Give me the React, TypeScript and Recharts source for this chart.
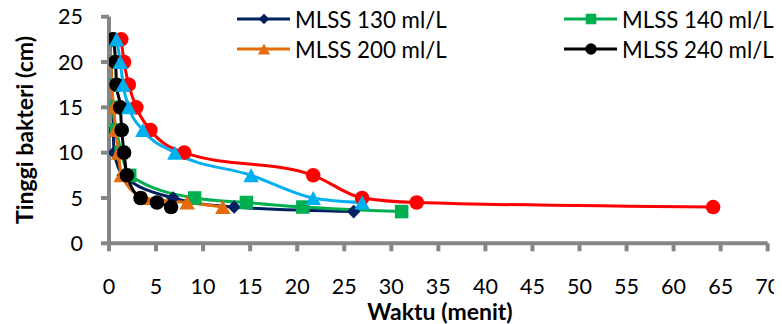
import React from "react";
import { LineChart, Line, XAxis, YAxis, Legend, Label } from "recharts";

// ---- data ----
const xTicks = [0, 5, 10, 15, 20, 25, 30, 35, 40, 45, 50, 55, 60, 65, 70];
const yTicks = [0, 5, 10, 15, 20, 25];

const mlss130Time = [0.1, 0.2, 0.3, 0.4, 0.45, 0.55, 1.5, 6.8, 13.3, 26];
const mlss130Height = [22.5, 20, 17.5, 15, 12.5, 10, 7.5, 5, 4, 3.5];

const mlss140Time = [0, 0.1, 0.3, 0.4, 0.8, 1.3, 2.2, 9.1, 14.6, 20.6, 31.1];
const mlss140Height = [22.5, 20, 17.5, 15, 12.5, 10, 7.5, 5, 4.5, 4, 3.5];

const mlss200Time = [0.1, 0.2, 0.3, 0.5, 0.7, 1.0, 1.3, 3.8, 8.3, 12.1];
const mlss200Height = [22.5, 20, 17.5, 15, 12.5, 10, 7.5, 5, 4.5, 4];

const mlss240Time = [0.45, 0.7, 0.8, 1.2, 1.35, 1.6, 1.9, 3.35, 5.1, 6.6];
const mlss240Height = [22.5, 20, 17.5, 15, 12.5, 10, 7.5, 5, 4.5, 4];

const redTime = [1.3, 1.6, 2.1, 2.9, 4.4, 8, 21.7, 26.9, 32.7, 64.2];
const redHeight = [22.5, 20, 17.5, 15, 12.5, 10, 7.5, 5, 4.5, 4];

const blueTime = [0.8, 1.2, 1.5, 2.1, 3.6, 7, 15.1, 21.7, 26.9];
const blueHeight = [22.5, 20, 17.5, 15, 12.5, 10, 7.5, 5, 4.5];

const zip = (xs: number[], ys: number[]) => xs.map((x, i) => ({ x, y: ys[i] }));

type Shape = "diamond" | "square" | "triangle" | "circle";

const series = [
  { name: "MLSS 130 ml/L", color: "#002060", shape: "diamond" as Shape, data: zip(mlss130Time, mlss130Height), legend: true },
  { name: "MLSS 140 ml/L", color: "#00B050", shape: "square" as Shape, data: zip(mlss140Time, mlss140Height), legend: true },
  { name: "MLSS 200 ml/L", color: "#E46C0A", shape: "triangle" as Shape, data: zip(mlss200Time, mlss200Height), legend: true },
  { name: "MLSS 240 ml/L", color: "#000000", shape: "circle" as Shape, data: zip(mlss240Time, mlss240Height), legend: true },
  { name: "Seri 5", color: "#FF0000", shape: "circle" as Shape, data: zip(redTime, redHeight), legend: false },
  { name: "Seri 6", color: "#00B0F0", shape: "triangle" as Shape, data: zip(blueTime, blueHeight), legend: false },
];

const FONT = "Lato, 'Open Sans', sans-serif";
const AXIS_GREY = "#868686";

function markerEl(shape: Shape, cx: number, cy: number, color: string, big: boolean, key?: string) {
  const s = big ? 1 : 0.78;
  if (shape === "circle") {
    return <circle key={key} cx={cx} cy={cy} r={7.3 * s} fill={color} />;
  }
  if (shape === "square") {
    const w = 13.5 * s;
    return <rect key={key} x={cx - w / 2} y={cy - w / 2} width={w} height={w} fill={color} />;
  }
  if (shape === "triangle") {
    const w = 15.5 * s;
    const h = 14 * s;
    return (
      <polygon
        key={key}
        points={`${cx},${cy - h / 2} ${cx + w / 2},${cy + h / 2} ${cx - w / 2},${cy + h / 2}`}
        fill={color}
      />
    );
  }
  const d = 6.8 * s;
  return (
    <polygon
      key={key}
      points={`${cx},${cy - d} ${cx + d},${cy} ${cx},${cy + d} ${cx - d},${cy}`}
      fill={color}
    />
  );
}

function LegendContent() {
  const items = series.filter((s) => s.legend);
  const colX = [229, 556];
  const rowY = [11, 41];
  return (
    <svg width={774} height={60} style={{ display: "block", overflow: "visible" }}>
      {items.map((it, i) => {
        const col = i % 2;
        const row = Math.floor(i / 2);
        const x0 = colX[col];
        const y = rowY[row];
        return (
          <g key={it.name}>
            <line x1={x0} x2={x0 + 53} y1={y} y2={y} stroke={it.color} strokeWidth={3} />
            {markerEl(it.shape, x0 + 27, y, it.color, false)}
            <text
              x={x0 + 58}
              y={y}
              dominantBaseline="central"
              fontFamily={FONT}
              fontSize={22.3}
              fill="#000"
            >
              {it.name}
            </text>
          </g>
        );
      })}
    </svg>
  );
}

export default function App() {
  return (
    <div style={{ width: 774, height: 316, position: "relative" }}>
      <LineChart
        width={774}
        height={316}
        style={{ overflow: "visible" }}
        margin={{ top: 8.7, right: 14.3, bottom: 20.7, left: 41 }}
      >
        <XAxis
          type="number"
          dataKey="x"
          domain={[0, 70]}
          ticks={xTicks}
          interval={0}
          allowDataOverflow
          height={60}
          axisLine={{ stroke: AXIS_GREY, strokeWidth: 4 }}
          tickLine={{ stroke: AXIS_GREY, strokeWidth: 4 }}
          tickSize={8}
          tickMargin={27.5}
          tick={{ fill: "#000", fontSize: 21.5, fontFamily: FONT }}
        >
          <Label
            content={() => (
              <text
                x={432}
                y={312}
                textAnchor="middle"
                fontFamily={FONT}
                fontWeight="bold"
                fontSize={23}
                fill="#000"
              >
                Waktu (menit)
              </text>
            )}
          />
        </XAxis>
        <YAxis
          type="number"
          dataKey="y"
          domain={[0, 25]}
          ticks={yTicks}
          interval={0}
          width={60}
          axisLine={{ stroke: AXIS_GREY, strokeWidth: 4 }}
          tickLine={{ stroke: AXIS_GREY, strokeWidth: 4 }}
          tickSize={8}
          tickMargin={18}
          tick={{ fill: "#000", fontSize: 21.5, fontFamily: FONT }}
        >
          <Label
            content={() => (
              <text
                x={15.5}
                y={122}
                transform="rotate(-90 15.5 122)"
                textAnchor="middle"
                dominantBaseline="central"
                fontFamily={FONT}
                fontWeight="bold"
                fontSize={23}
                fill="#000"
              >
                Tinggi bakteri (cm)
              </text>
            )}
          />
        </YAxis>
        <Legend
          layout="horizontal"
          verticalAlign="middle"
          align="center"
          wrapperStyle={{ left: 0, top: 0, width: 774, height: 60 }}
          content={() => <LegendContent />}
        />
        {series.map((s) => (
          <Line
            key={s.name}
            name={s.name}
            data={s.data}
            dataKey="y"
            type="monotone"
            stroke={s.color}
            strokeWidth={3}
            isAnimationActive={false}
            legendType={s.legend ? "line" : "none"}
            activeDot={false}
            dot={(p: any) =>
              p.cx == null || p.cy == null ? (
                <g key={`${s.name}-${p.index}`} />
              ) : (
                markerEl(s.shape, p.cx, p.cy, s.color, true, `${s.name}-${p.index}`)
              )
            }
          />
        ))}
      </LineChart>
    </div>
  );
}
